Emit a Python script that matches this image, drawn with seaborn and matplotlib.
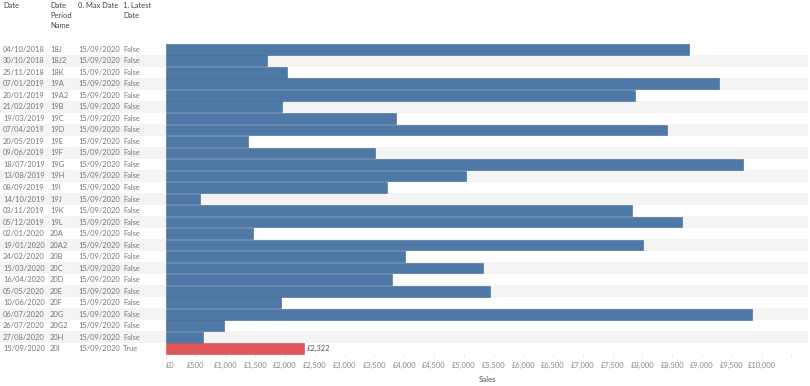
#--Import libraries--#
import pandas as pd
import seaborn as sns
import matplotlib.pyplot as plt
from matplotlib.transforms import blended_transform_factory

#--Data--#
dates = ['04/10/2018', '30/10/2018', '25/11/2018', '07/01/2019', '20/01/2019', '21/02/2019',
         '19/03/2019', '07/04/2019', '20/05/2019', '09/06/2019', '18/07/2019', '13/08/2019',
         '08/09/2019', '14/10/2019', '03/11/2019', '05/12/2019', '02/01/2020', '19/01/2020',
         '24/02/2020', '15/03/2020', '16/04/2020', '05/05/2020', '10/06/2020', '06/07/2020',
         '26/07/2020', '27/08/2020', '15/09/2020']
periods = ['18J', '18J2', '18K', '19A', '19A2', '19B', '19C', '19D', '19E', '19F', '19G', '19H',
           '19I', '19J', '19K', '19L', '20A', '20A2', '20B', '20C', '20D', '20E', '20F', '20G',
           '20G2', '20H', '20I']
max_date = '15/09/2020'
latest = ['False'] * 26 + ['True']
sales = [8785, 1690, 2031, 9283, 7879, 1942, 3861, 8405, 1382, 3503, 9681, 5036,
         3705, 565, 7817, 8657, 1460, 8013, 4012, 5316, 3799, 5445, 1931, 9832,
         979, 627, 2322]
ticks = list(range(0, 10001, 500))

df = pd.DataFrame({'Date': dates, 'Period': periods, 'Latest': latest, 'Sales': sales})

#--Style--#
sns.set_style('white')
plt.rcParams['font.family'] = ['Lato', 'DejaVu Sans']
FS = 5.4
BAND = '#f4f4f4'
TXT = '#777777'
HDR = '#444444'
colors = {'False': '#4e79a7', 'True': '#e15759'}
edges = {'False': '#3f6590', 'True': '#c94a4c'}

W, H = 810, 386
fig = plt.figure(figsize=(W / 100, H / 100), dpi=100)
left, right, top, bottom = 166, 808, 43.5, 354.5
ax = fig.add_axes([left / W, 1 - bottom / H, (right - left) / W, (bottom - top) / H])

#--Row banding across the whole width--#
xmin_band = -left / (right - left)
for i in range(len(df)):
    if i % 2 == 1:
        ax.axhspan(i - 0.5, i + 0.5, xmin=xmin_band, xmax=1, color=BAND, lw=0, clip_on=False, zorder=0)

#--Bars--#
sns.barplot(data=df, x='Sales', y='Period', hue='Latest', order=periods, hue_order=['False', 'True'],
            palette=colors, saturation=1, dodge=False, legend=False,
            width=0.93, ax=ax, zorder=2)
for cont, key in zip(ax.containers, ['False', 'True']):
    for bar in cont:
        bar.set_edgecolor(edges[key])
        bar.set_linewidth(0.4)

ax.set_xlim(0, 10780)
ax.set_ylim(len(df) - 0.5, -0.5)
ax.set_xticks(ticks)
ax.set_xticklabels([f'£{t:,}' for t in ticks], fontsize=FS, color='#888888')
ax.get_xticklabels()[0].set_ha('left')
ax.set_xticks([10500], minor=True)
ax.tick_params(axis='x', which='both', length=2.5, width=0.5, color='#dddddd', pad=3, bottom=True)
ax.set_yticks([])
ax.set_ylabel('')
ax.set_xlabel('Sales', fontsize=FS + 0.3, color='#555555', labelpad=5)
for s in ax.spines.values():
    s.set_visible(False)

#--Label on the latest bar--#
ax.text(sales[-1] + 50, len(df) - 1, f'£{sales[-1]:,}', va='center', ha='left',
        fontsize=FS, color='#555555', zorder=3)

#--Row headers--#
tr = blended_transform_factory(fig.transFigure, ax.transData)
col_x = [3, 50, 78, 123]
for i, row in df.iterrows():
    vals = [row['Date'], row['Period'], max_date, row['Latest']]
    for cx, v in zip(col_x, vals):
        ax.text(cx / W, i, v, transform=tr, va='center', ha='left', fontsize=FS, color=TXT, clip_on=False)

#--Column headers--#
headers = ['Date', 'Date\nPeriod\nName', '0. Max Date', '1. Latest\nDate']
for cx, h in zip(col_x, headers):
    fig.text(cx / W, 1 - 2.5 / H, h, va='top', ha='left', fontsize=FS, color=HDR, linespacing=1.45)

plt.savefig('out.png', dpi=100)
